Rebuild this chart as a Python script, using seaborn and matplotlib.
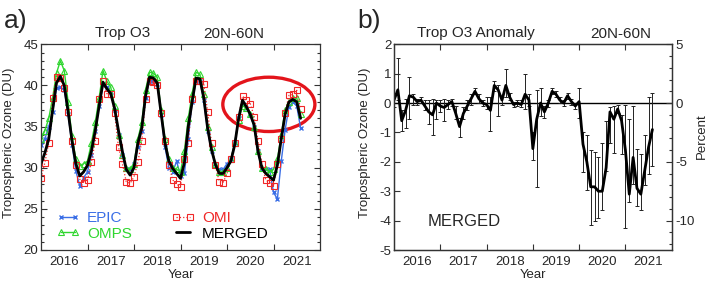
import numpy as np
import matplotlib
matplotlib.use('Agg')
import matplotlib.pyplot as plt
from matplotlib.patches import Ellipse
from matplotlib.ticker import MultipleLocator
import seaborn as sns

# monthly tropospheric ozone (DU), 20N-60N, first month at left edge of the axis
merged = [30.5, 31.8, 33.5, 37.0, 40.3, 41.1, 40.0, 36.8, 33.3, 30.5, 29.0, 29.5,
          30.3, 32.0, 34.5, 37.5, 40.4, 39.6, 39.0, 37.2, 34.5, 32.0, 29.8, 29.1,
          30.0, 33.0, 34.8, 38.8, 41.0, 40.9, 40.3, 36.6, 33.0, 30.8, 29.9, 29.3,
          28.7, 30.6, 35.0, 38.0, 40.9, 40.8, 38.5, 34.8, 32.2, 30.4, 29.3, 29.3,
          30.0, 30.8, 32.8, 36.0, 38.2, 37.4, 36.5, 35.2, 32.0, 30.0, 29.3, 28.9,
          28.5, 30.3, 33.5, 36.5, 38.0, 38.3, 38.0, 36.0]
epic = [32.8, 33.5, 35.0, 36.8, 39.7, 39.8, 39.5, 36.5, 32.8, 29.6, 27.8, 28.8,
        29.5, 31.5, 34.5, 37.5, 40.0, 39.8, 39.2, 37.0, 34.0, 31.5, 29.8, 29.8,
        30.5, 32.5, 34.5, 38.5, 40.5, 40.6, 40.2, 36.4, 32.5, 30.0, 29.5, 30.8,
        29.0, 29.3, 33.5, 38.0, 40.5, 40.6, 38.2, 34.5, 32.0, 30.5, 29.8, 29.8,
        30.5, 31.0, 33.0, 36.0, 37.8, 37.2, 36.4, 35.0, 32.0, 29.8, 29.8, 29.8,
        27.0, 26.2, 30.8, 34.6, 37.4, 38.0, 37.5, 34.8]
omps = [33.5, 34.5, 36.0, 38.5, 41.5, 43.0, 41.8, 38.0, 33.8, 31.0, 30.2, 30.5,
        30.8, 33.0, 35.5, 38.5, 41.8, 40.5, 39.8, 37.5, 34.0, 31.5, 30.0, 29.8,
        30.5, 33.5, 35.5, 39.5, 41.6, 41.5, 41.0, 37.0, 33.5, 31.0, 30.0, 29.8,
        29.5, 32.0, 36.0, 39.0, 41.6, 41.4, 39.0, 35.0, 32.5, 30.5, 29.5, 29.5,
        30.0, 31.0, 33.0, 35.8, 37.5, 37.3, 36.5, 35.0, 32.0, 30.0, 29.8, 29.5,
        29.8, 31.0, 34.0, 37.0, 38.0, 38.5, 38.5, 36.5]
omi = [28.8, 30.6, 33.0, 38.5, 41.0, 40.9, 39.7, 36.8, 33.2, 30.3, 28.6, 28.2,
       28.5, 30.7, 33.2, 38.3, 40.5, 39.0, 39.0, 36.6, 32.5, 30.5, 28.3, 28.1,
       28.9, 30.7, 33.2, 38.4, 40.5, 40.4, 40.1, 36.6, 33.2, 30.3, 28.5, 28.0,
       27.7, 31.1, 33.0, 38.4, 40.5, 40.5, 40.2, 36.8, 33.0, 30.3, 28.3, 28.2,
       29.3, 31.0, 33.0, 36.2, 38.7, 38.2, 37.8, 36.2, 33.2, 30.5, 28.5, 28.2,
       27.8, 30.5, 33.5, 36.7, 38.8, 38.9, 39.4, 37.1]

# merged anomaly (DU) with lower / upper ends of the error bars
anom = [0.1, 0.45, -0.6, -0.25, 0.25, 0.2, 0.05, 0.1, -0.1, -0.3, -0.4, 0.0,
        -0.1, -0.15, -0.05, 0.05, -0.35, -0.8, -0.35, -0.1, 0.15, 0.4, 0.15, 0.0,
        -0.05, -0.25, 0.6, 0.45, 0.1, 0.6, 0.2, -0.05, 0.0, -0.05, 0.3, 0.1,
        -1.55, -0.55, 0.0, -0.3, 0.0, 0.4, 0.3, 0.1, 0.0, 0.25, 0.05, -0.1,
        0.05, -1.4, -2.0, -2.85, -2.85, -3.0, -3.0, -2.2, -0.3, -0.55, -0.2, -0.6,
        -1.6, -3.1, -1.85, -2.9, -3.1, -2.3, -1.5, -0.9]
anom_lo = [-0.15, 0.1, -0.95, -0.85, -0.55, -0.05, -0.05, 0.0, -0.25, -0.7, -1.1, -0.55,
           -0.3, -0.6, -0.2, -0.1, -0.55, -1.15, -0.55, -0.25, -0.05, 0.3, 0.0, -0.1,
           -0.2, -0.95, 0.4, -0.45, -0.05, 0.2, 0.1, -0.15, -0.1, -0.15, -0.2, -0.1,
           -1.95, -2.85, -0.45, -0.5, -0.15, 0.3, 0.2, 0.0, -0.1, 0.15, -0.05, -0.2,
           -0.5, -2.35, -2.95, -4.15, -4.0, -3.9, -3.65, -2.3, -1.35, -1.7, -0.35, -1.75,
           -4.25, -3.35, -2.75, -3.5, -3.65, -2.8, -2.4, -2.15]
anom_hi = [0.35, 1.55, -0.25, 0.15, 0.9, 0.3, 0.15, 0.2, 0.1, 0.1, 0.15, 0.1,
           0.1, 0.15, 0.1, 0.15, -0.1, -0.5, -0.15, 0.1, 0.3, 0.5, 0.3, 0.1,
           0.2, 0.2, 0.75, 0.6, 0.2, 1.15, 0.35, 0.05, 0.1, 0.1, 1.0, 0.3,
           -1.0, 0.45, 0.5, -0.1, 0.1, 0.5, 0.4, 0.2, 0.1, 0.35, 0.15, 0.0,
           0.5, -1.0, -1.1, -1.6, -1.65, -1.85, -1.35, -0.6, -0.15, -0.1, -0.05, -0.4,
           -0.05, -0.55, -0.1, -1.55, -1.75, -1.1, 0.2, 0.35]

year_labels = ['2016', '2017', '2018', '2019', '2020', '2021']

months = np.arange(len(merged))
t = 2016 + months / 12
anom = np.array(anom)
yerr = [anom - np.array(anom_lo), np.array(anom_hi) - anom]

sns.set_theme(style='ticks')
plt.rcParams['font.family'] = ['Liberation Sans', 'DejaVu Sans']
plt.rcParams['axes.unicode_minus'] = False

fig = plt.figure(figsize=(7.09, 2.84), dpi=100)
W, H = 709, 284
axa = fig.add_axes([41 / W, 1 - 250 / H, 279 / W, 205.7 / H])
axb = fig.add_axes([394 / W, 1 - 250 / H, 277.7 / W, 205.7 / H])


def style_x(ax):
    ax.set_xlim(2016, 2022)
    ax.set_xticks(range(2017, 2022))
    ax.set_xticklabels([])
    ax.set_xticks([y + 0.5 for y in range(2016, 2022)], minor=True)
    ax.set_xticklabels(year_labels, minor=True)
    ax.tick_params(axis='x', which='major', direction='in', top=True, bottom=True,
                   length=4, width=0.8, color='#333333')
    ax.tick_params(axis='x', which='minor', length=0, labelsize=9.5, pad=4)
    ax.set_xlabel('Year', fontsize=9.5, labelpad=1)
    for s in ax.spines.values():
        s.set_linewidth(0.9)
        s.set_color('#333333')


# ---- panel a ----
blue, green, red = '#3a6ee6', '#2fd62f', '#f02828'
sns.lineplot(x=t, y=epic, ax=axa, color=blue, lw=1.0, marker='x', markersize=3.5,
             markeredgecolor=blue, markeredgewidth=1.0, label='EPIC')
sns.lineplot(x=t, y=omps, ax=axa, color=green, lw=1.0, marker='^', markersize=4,
             markerfacecolor='none', markeredgecolor=green, markeredgewidth=0.8,
             label='OMPS')
sns.lineplot(x=t, y=omi, ax=axa, color=red, lw=0.9, ls=':', marker='s', markersize=4,
             markerfacecolor='none', markeredgecolor=red, markeredgewidth=0.8,
             label='OMI')
sns.lineplot(x=t, y=merged, ax=axa, color='black', lw=2.0, label='MERGED')

axa.add_patch(Ellipse((2020.9, 37.7), 1.98, 6.6, fill=False, edgecolor='#e3141b', lw=2.4))

style_x(axa)
axa.set_ylim(20, 45)
axa.yaxis.set_major_locator(MultipleLocator(5))
axa.yaxis.set_minor_locator(MultipleLocator(1))
axa.tick_params(axis='y', which='both', direction='in', left=True, right=True,
                labelsize=9.5, pad=2, width=0.8, color='#333333')
axa.tick_params(axis='y', which='major', length=4)
axa.tick_params(axis='y', which='minor', length=2.5)
axa.set_ylabel('Tropospheric Ozone (DU)', fontsize=9.5)
axa.yaxis.label.set_va('center')
axa.yaxis.set_label_coords(-0.115, 0.52)

leg = axa.legend(ncol=2, loc='lower left', bbox_to_anchor=(0.055, 0.045), frameon=False,
                 fontsize=11, numpoints=2, handlelength=1.5, handletextpad=0.5,
                 columnspacing=2.6, labelspacing=0.1, borderpad=0, borderaxespad=0,
                 labelcolor='linecolor')

# ---- panel b ----
axb.axhline(0, color='black', lw=1.0)
axb.errorbar(t, anom, yerr=yerr, fmt='none', ecolor='#222222', elinewidth=0.7,
             capsize=1.5, capthick=0.7)
sns.lineplot(x=t, y=anom, ax=axb, color='black', lw=2.0, legend=False)

style_x(axb)
axb.set_ylim(-5, 2)
axb.yaxis.set_major_locator(MultipleLocator(1))
axb.tick_params(axis='y', which='both', direction='in', left=True, right=False,
                labelsize=9.5, pad=2, length=4, width=0.8, color='#333333')
axb.set_ylabel('Tropospheric Ozone (DU)', fontsize=9.5)
axb.yaxis.label.set_va('center')
axb.yaxis.set_label_coords(-0.105, 0.52)
axb.text(0.122, 0.138, 'MERGED', transform=axb.transAxes, fontsize=12, va='center')

axp = axb.twinx()
axp.set_ylim(-12.5, 5)
axp.yaxis.set_major_locator(MultipleLocator(5))
axp.yaxis.set_minor_locator(MultipleLocator(1))
axp.tick_params(axis='y', which='both', direction='in', labelsize=9.5, pad=3,
                width=0.8, color='#333333')
axp.tick_params(axis='y', which='major', length=4)
axp.tick_params(axis='y', which='minor', length=2.5)
for s in axp.spines.values():
    s.set_linewidth(0.9)
    s.set_color('#333333')
axp.set_ylabel('Percent', fontsize=9.5)
axp.yaxis.label.set_va('center')
axp.yaxis.set_label_coords(1.110, 0.555)

# ---- titles ----
fig.text(4 / W, 1 - 28 / H, 'a)', fontsize=19, va='baseline')
fig.text(357 / W, 1 - 28 / H, 'b)', fontsize=19, va='baseline')
fig.text(123 / W, 1 - 37.5 / H, 'Trop O3', fontsize=11, ha='center', va='baseline')
fig.text(234 / W, 1 - 37.5 / H, '20N-60N', fontsize=11, ha='center', va='baseline')
fig.text(476 / W, 1 - 37.5 / H, 'Trop O3 Anomaly', fontsize=11, ha='center', va='baseline')
fig.text(621 / W, 1 - 37.5 / H, '20N-60N', fontsize=11, ha='center', va='baseline')

fig.savefig('out.png', dpi=100)
